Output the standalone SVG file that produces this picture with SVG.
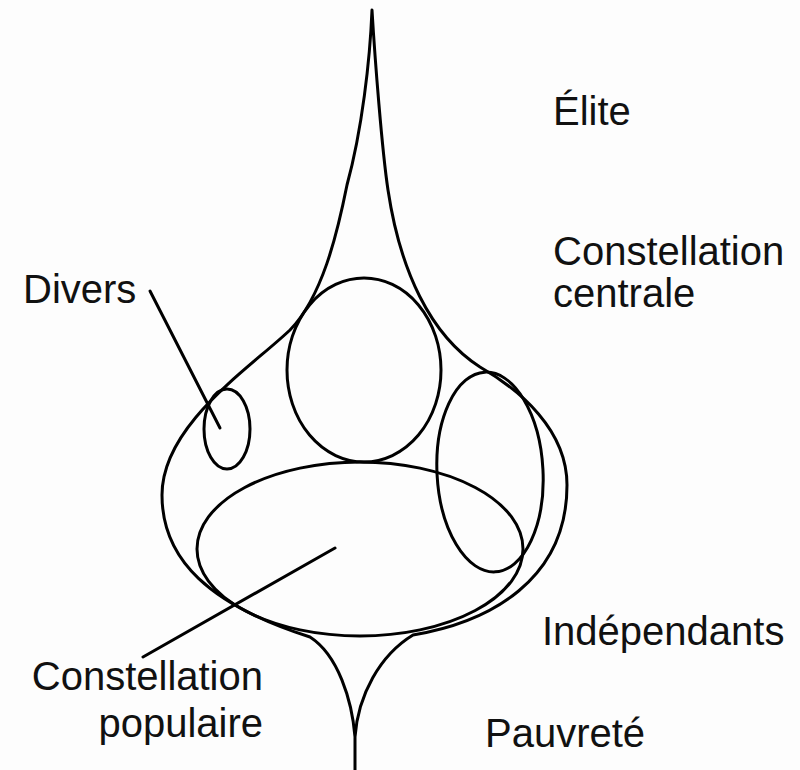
<svg xmlns="http://www.w3.org/2000/svg" width="800" height="770" viewBox="0 0 800 770">
<style>
.ln{fill:none;stroke:#000;stroke-width:3;stroke-linecap:round;stroke-linejoin:round}
.t{font-family:"Liberation Sans",Arial,sans-serif;font-size:40px;fill:#111}
</style>
<rect width="800" height="770" fill="#fdfdfd"/>
<g id="contour">
<path class="ln" d="M 355 770 L 355 737 C 352 700 338 655 310 637 C 210 605 162 560 162 495 C 162 425 250 368 290 330 C 322 297 337 235 347 185 C 362 130 370 60 372 10 C 375 60 382 150 388 190 C 400 270 430 335 480 367 C 520 390 567 430 567 485 C 567 580 490 622 413 635 C 380 655 358 695 355 737"/>
</g>
<g id="centrale">
<ellipse class="ln" cx="364" cy="370" rx="77" ry="92"/>
</g>
<g id="divers">
<ellipse class="ln" cx="227" cy="429" rx="23" ry="40"/>
</g>
<g id="independants">
<ellipse class="ln" cx="490" cy="472" rx="53" ry="100" transform="rotate(-3 490 472)"/>
</g>
<g id="populaire">
<ellipse class="ln" cx="360" cy="549" rx="163" ry="87"/>
</g>
<g id="connectors">
<line class="ln" x1="150" y1="291" x2="220" y2="428"/>
<line class="ln" x1="143" y1="657" x2="335" y2="548"/>
</g>
<g id="labels">
<text class="t" x="553" y="125">Élite</text>
<text class="t" x="553" y="265">Constellation</text>
<text class="t" x="553" y="307">centrale</text>
<text class="t" x="23" y="303">Divers</text>
<text class="t" x="542" y="645">Indépendants</text>
<text class="t" x="485" y="747">Pauvreté</text>
<text class="t" x="263" y="690" text-anchor="end">Constellation</text>
<text class="t" x="263" y="737" text-anchor="end">populaire</text>
</g>
</svg>
